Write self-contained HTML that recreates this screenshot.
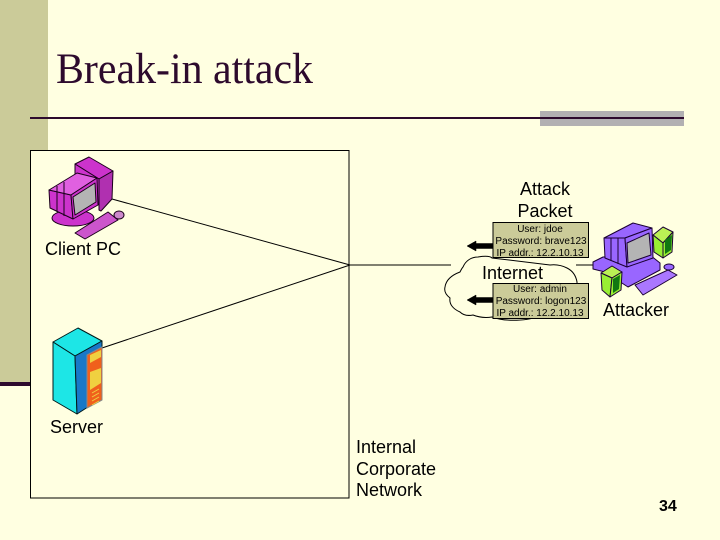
<!DOCTYPE html>
<html><head><meta charset="utf-8"><style>
html,body{margin:0;padding:0;background:#ffffe1;}
svg{display:block;}
text{font-family:"Liberation Sans",sans-serif;fill:#000;}
</style></head><body>
<svg width="720" height="540" viewBox="0 0 720 540" xmlns="http://www.w3.org/2000/svg">
<rect width="720" height="540" fill="#ffffe1"/>
<rect x="0" y="0" width="48" height="382" fill="#cbcb99"/>
<rect x="0" y="382" width="48" height="4" fill="#2d0a2d"/>
<rect x="540" y="111" width="144" height="15" fill="#b2b0b2"/>
<rect x="30" y="117" width="654" height="2" fill="#2d0a2d"/>
<text x="56" y="83" style="font-family:'Liberation Serif',serif;fill:#2d0a2d" font-size="43" textLength="257" lengthAdjust="spacingAndGlyphs">Break-in attack</text>
<rect x="30.5" y="150.5" width="318.5" height="347.5" fill="#ffffe1" stroke="#000" stroke-width="1"/>

<g stroke="#000" fill="none" stroke-width="1">
<line x1="112" y1="199" x2="350" y2="265"/>
<line x1="102" y1="348" x2="350" y2="265"/>
<line x1="350" y1="265" x2="451" y2="265"/>
<line x1="576" y1="265" x2="596" y2="265"/>
</g>

<!-- Client PC -->
<g stroke="#1a001a" stroke-width="1" stroke-linejoin="round">
<path d="M75 164L89 157L113 171L99 179Z" fill="#cc33cc"/>
<path d="M99 179L113 171L112 199L101 211L99 210Z" fill="#b030b0"/>
<path d="M75 164L99 179L99 205L75 190Z" fill="#cc33cc"/>
<ellipse cx="73" cy="218" rx="21" ry="8" fill="#cc33cc"/>
<path d="M49 190L50 208L73 219L71 195Z" fill="#cc33cc"/>
<path d="M49 190L71 195L97 178L77 173Z" fill="#e060e0"/>
<path d="M71 195L97 178L98 205L73 219Z" fill="#cc33cc"/>
<path d="M73 197L95 183L96 202L75 215Z" fill="#b4b4b4"/>
<path d="M57 186V212M64 182V216" stroke="#1a001a" fill="none"/>
<path d="M75 233L108 212L118 220L85 239Z" fill="#cc55cc"/>
<ellipse cx="119" cy="215" rx="5" ry="4" fill="#cc88cc"/>
</g>

<!-- Server -->
<g stroke="#001a1a" stroke-width="1" stroke-linejoin="round">
<path d="M53 342L78 328L102 341L75 356Z" fill="#1de6e6"/>
<path d="M53 342L75 356L77 414L53 400Z" fill="#1de6e6"/>
<path d="M75 356L102 341L102 398L77 414Z" fill="#1878c8" />
<path d="M87 355L102 347L102 400L87 408Z" fill="#f0601c" stroke="#888"/>
<path d="M90 355L101 350V357L90 363Z" fill="#f0d040" stroke="none"/>
<path d="M90 372L101 368V383L90 390Z" fill="#f0d040" stroke="none"/>
<path d="M92 393L99 389M92 397L99 393M92 401L99 397M92 405L99 401" stroke="#f0d040" fill="none"/>
</g>

<!-- Cloud -->
<path d="M463 267C466 260 472 257 478 257C484 256 490 256 492 258L550 265C558 264 563 266 567 268C573 271 576 276 577 282L577 300C572 315 550 318 537 316C530 321 505 322 492 317C485 318 478 317 473 315C468 316 463 315 460 312C453 309 449 304 450 298C446 295 444 291 445 287C446 280 452 275 460 272C461 270 462 268 463 267Z" fill="#ffffe1" stroke="#000" stroke-width="1"/>

<!-- Attacker -->
<g stroke="#1a0033" stroke-width="1" stroke-linejoin="round">
<path d="M593 262L603 257L650 255L660 263L660 270L628 287L605 272L593 269Z" fill="#9966ff"/>
<path d="M604 238L633 223L652 228L625 238Z" fill="#9966ff"/>
<path d="M604 238L625 238L627 267L605 258Z" fill="#9966ff"/>
<path d="M625 238L652 228L653 258L627 267Z" fill="#9966ff"/>
<path d="M627 243L649 233L651 255L628 263Z" fill="#b4b4b4"/>
<path d="M611 238V261M618 238V264" fill="none"/>
<path d="M653 235L663 227L673 232L663 243Z" fill="#bbf055"/>
<path d="M653 235L663 243L663 258L654 252Z" fill="#99ee33"/>
<path d="M663 243L673 232L672 252L663 258Z" fill="#99ee33"/>
<path d="M665 240L672 235L671 250L665 254Z" fill="#117711" stroke="none"/>
<path d="M601 273L612 266L622 272L612 278Z" fill="#bbf055"/>
<path d="M601 273L612 278L610 297L602 290Z" fill="#99ee33"/>
<path d="M612 278L622 272L621 290L610 297Z" fill="#99ee33"/>
<path d="M613 279L620 275L619 289L613 293Z" fill="#117711" stroke="none"/>
<path d="M635 285L668 270L677 275L643 295Z" fill="#aa77ff"/>
<ellipse cx="669" cy="267" rx="5" ry="3" fill="#9966ff"/>
</g>

<!-- Packets -->
<rect x="493" y="222.5" width="95.5" height="35" fill="#cbcb99" stroke="#000" stroke-width="1"/>
<rect x="493" y="283.5" width="95.5" height="35" fill="#cbcb99" stroke="#000" stroke-width="1"/>
<path d="M493 243.5H476V241L467 246L476 251V248.5H493Z" fill="#000" stroke="#000" stroke-width=".5"/>
<path d="M493 297.5H476V295L467 300L476 305V302.5H493Z" fill="#000" stroke="#000" stroke-width=".5"/>
<g font-size="10" text-anchor="middle">
<text x="540" y="232">User: jdoe</text>
<text x="541" y="244">Password: brave123</text>
<text x="540" y="256">IP addr.: 12.2.10.13</text>
<text x="540" y="292">User: admin</text>
<text x="541" y="304">Password: logon123</text>
<text x="540" y="316">IP addr.: 12.2.10.13</text>
</g>

<g font-size="18">
<text x="545" y="195" text-anchor="middle">Attack</text>
<text x="545" y="217" text-anchor="middle">Packet</text>
<text x="45" y="255">Client PC</text>
<text x="482" y="279">Internet</text>
<text x="603" y="316">Attacker</text>
<text x="50" y="433">Server</text>
<text x="356" y="453">Internal</text>
<text x="356" y="475">Corporate</text>
<text x="356" y="496">Network</text>
</g>
<text x="659" y="511" font-size="16" font-weight="bold">34</text>
</svg>
</body></html>
